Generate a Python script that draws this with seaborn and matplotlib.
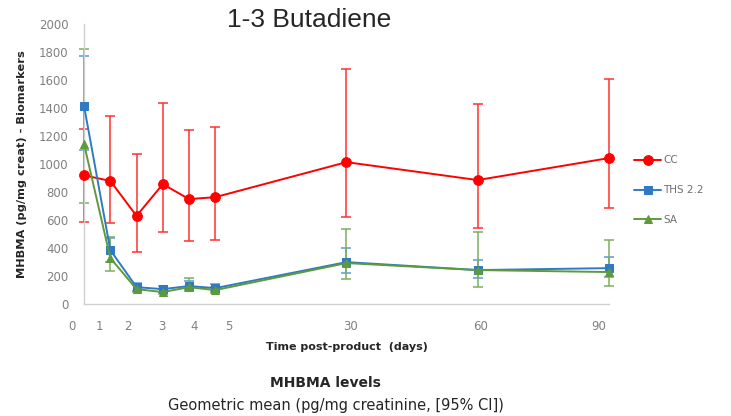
import numpy as np
import pandas as pd
import matplotlib
matplotlib.use("Agg")
import matplotlib.pyplot as plt
import matplotlib.transforms as mtransforms
import seaborn as sns

# visit positions on the (broken) time axis, and the labels written under it
x_pos = [0, 1, 2, 3, 4, 5, 10, 15, 20]
tick_pos = [-0.46, 0.57, 1.68, 2.98, 4.2, 5.5, 10.15, 15.1, 19.6]
tick_labels = ["0", "1", "2", "3", "4", "5", "30", "60", "90"]

cc_mean = [920, 880, 630, 857, 750, 764, 1014, 886, 1043]
cc_low = [590, 579, 371, 514, 450, 457, 621, 543, 686]
cc_high = [1250, 1343, 1071, 1436, 1243, 1264, 1679, 1429, 1607]

ths_mean = [1415, 386, 121, 107, 129, 114, 300, 243, 257]
ths_low = [1100, 300, 95, 85, 100, 90, 221, 186, 190]
ths_high = [1770, 470, 150, 130, 165, 140, 400, 314, 336]

sa_mean = [1143, 329, 107, 86, 121, 100, 293, 243, 229]
sa_low = [721, 236, 85, 70, 95, 80, 179, 121, 129]
sa_high = [1820, 479, 135, 110, 185, 125, 536, 514, 457]

series = ["CC", "THS 2.2", "SA"]
colors = {"CC": "#ff0000", "THS 2.2": "#2e7bc4", "SA": "#5e9a3c"}
err_colors = {"CC": "#ff3030", "THS 2.2": "#5a9bd8", "SA": "#7fae5f"}
markers = {"CC": "o", "THS 2.2": "s", "SA": "^"}
msize = {"CC": 7, "THS 2.2": 5.5, "SA": 5.5}

frames = []
for name, m, lo, hi in [("CC", cc_mean, cc_low, cc_high),
                        ("THS 2.2", ths_mean, ths_low, ths_high),
                        ("SA", sa_mean, sa_low, sa_high)]:
    frames.append(pd.DataFrame({"x": x_pos, "y": m, "lo": lo, "hi": hi, "product": name}))
df = pd.concat(frames, ignore_index=True)

sns.set_style("white")
fig = plt.figure(figsize=(7.31, 4.16), dpi=100)
ax = fig.add_axes([0.115, 0.269, 0.718, 0.673])

for name in series:
    d = df[df["product"] == name]
    eb = ax.errorbar(d["x"], d["y"], yerr=[d["y"] - d["lo"], d["hi"] - d["y"]],
                     fmt="none", ecolor=err_colors[name], elinewidth=1.1,
                     capsize=3.5, capthick=1.1, zorder=2)
    for art in eb.lines[1] + eb.lines[2]:
        art.set_clip_on(False)

for name in series:
    d = df[df["product"] == name]
    sns.lineplot(data=d, x="x", y="y", ax=ax, color=colors[name],
                 marker=markers[name], markersize=msize[name],
                 markeredgecolor=colors[name], linewidth=1.4,
                 label=name, zorder=3, clip_on=False)

ax.set_xlim(0, 20)
ax.set_ylim(0, 2000)
ax.set_yticks(np.arange(0, 2001, 200))
ax.tick_params(axis="y", labelsize=8.5, labelcolor="#808080", length=0, pad=11)
ax.set_xticks([])
trans = mtransforms.blended_transform_factory(ax.transData, ax.transAxes)
for p, lab in zip(tick_pos, tick_labels):
    ax.text(p, -0.08, lab, transform=trans, ha="center", va="center",
            fontsize=8.5, color="#808080")

for side in ["top", "right"]:
    ax.spines[side].set_visible(False)
for side in ["left", "bottom"]:
    ax.spines[side].set_color("#d0d0d0")
    ax.spines[side].set_linewidth(1.0)

ax.set_xlabel("Time post-product  (days)", fontsize=8, fontweight="bold", labelpad=27)
ax.set_ylabel("MHBMA (pg/mg creat) - Biomarkers", fontsize=8.2, fontweight="bold", labelpad=9)

leg = ax.legend(loc="center left", bbox_to_anchor=(1.03, 0.407), frameon=False,
                fontsize=7.5, handlelength=2.6, labelspacing=1.9, handletextpad=0.2)
for t in leg.get_texts():
    t.set_color("#707070")

fig.text(0.423, 0.952, "1-3 Butadiene", ha="center", va="center", fontsize=19,
         family="Liberation Sans")
fig.text(0.445, 0.079, "MHBMA levels", ha="center", va="center", fontsize=10,
         fontweight="bold", family="Liberation Sans Narrow")
fig.text(0.46, 0.026, "Geometric mean (pg/mg creatinine, [95% CI])", ha="center",
         va="center", fontsize=10.5, family="Liberation Sans Narrow")

fig.savefig("out.png", dpi=100)
